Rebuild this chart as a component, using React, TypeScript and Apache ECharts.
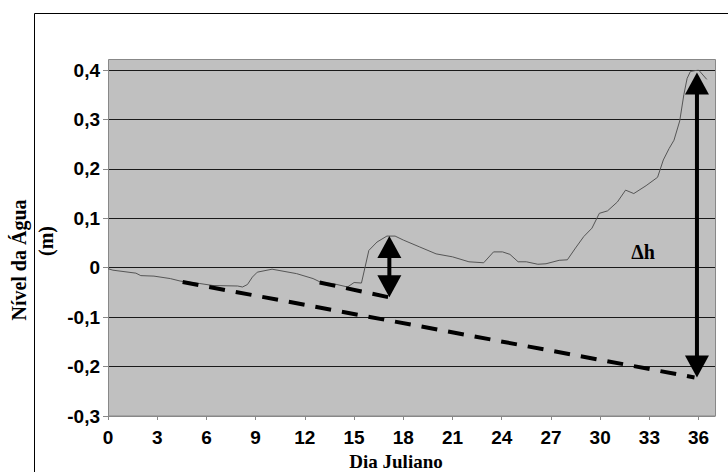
import React, { useEffect, useRef } from 'react';
import * as echarts from 'echarts';

// Daily water level record (Julian day, metres)
const days = [
  0, 0.3, 1.7, 2.0, 2.8, 3.8, 4.4, 5.6, 6.4, 7.9, 8.2, 8.5, 8.8, 9.1, 10.0,
  11.5, 12.5, 13.0, 13.7, 14.6, 15.0, 15.45, 15.9, 16.4, 17.0, 17.5, 18.0,
  19.0, 20.0, 21.0, 22.0, 22.9, 23.5, 24.05, 24.5, 25.0, 25.5, 26.2, 26.7,
  27.5, 28.0, 28.5, 29.0, 29.5, 29.95, 30.45, 31.05, 31.55, 32.05, 32.8,
  33.5, 33.85, 34.2, 34.5, 34.85, 35.1, 35.3, 35.5, 36.0, 36.5,
];
const levels = [
  -0.002, -0.005, -0.011, -0.016, -0.017, -0.022, -0.027, -0.032, -0.036,
  -0.037, -0.039, -0.034, -0.019, -0.009, -0.003, -0.012, -0.022, -0.030,
  -0.032, -0.039, -0.030, -0.031, 0.035, 0.052, 0.064, 0.064, 0.056, 0.042,
  0.028, 0.022, 0.012, 0.010, 0.032, 0.032, 0.027, 0.012, 0.012, 0.007,
  0.008, 0.015, 0.016, 0.040, 0.063, 0.080, 0.110, 0.115, 0.133, 0.157,
  0.150, 0.166, 0.183, 0.218, 0.241, 0.258, 0.297, 0.350, 0.383, 0.397,
  0.400, 0.381,
];

const xTicks = [0, 3, 6, 9, 12, 15, 18, 21, 24, 27, 30, 33, 36];
const yMin = -0.3;
const yMax = 0.4;
const yStep = 0.1;

// Recession trend lines (day, level)
const trendLong = [[4.55, -0.029], [35.75, -0.222]];
const trendShort = [[12.9, -0.03], [17.15, -0.06]];

// Double-headed arrows: [day, top level, bottom level]
const arrows = [
  [17.15, 0.064, -0.06],
  [35.9, 0.395, -0.222],
];

const deltaLabel = 'Δh';

const sansFamily = '"Liberation Sans", Arial, sans-serif';
const serifBold = '"Liberation Serif", "Times New Roman", serif';

export default function App() {
  const ref = useRef<HTMLDivElement>(null);

  useEffect(() => {
    if (!ref.current) return;
    const chart = echarts.init(ref.current, undefined, { renderer: 'svg' });

    const series: any[] = [
      {
        type: 'line',
        data: days.map((d, i) => [d, levels[i]]),
        showSymbol: false,
        symbol: 'none',
        lineStyle: { color: '#555555', width: 1 },
        z: 3,
      },
      ...[trendLong, trendShort].map((seg) => ({
        type: 'line',
        data: seg,
        symbol: 'none',
        lineStyle: { color: '#000', width: 4, type: [16, 11] },
        z: 4,
      })),
      {
        type: 'custom',
        data: arrows,
        encode: { x: 0, y: [1, 2] },
        clip: false,
        z: 5,
        renderItem: (_params: any, api: any) => {
          const x = api.value(0);
          const pTop = api.coord([x, api.value(1)]);
          const pBot = api.coord([x, api.value(2)]);
          const hw = 12;
          const hh = 22;
          return {
            type: 'group',
            children: [
              {
                type: 'line',
                shape: { x1: pTop[0], y1: pTop[1] + hh - 2, x2: pBot[0], y2: pBot[1] - hh + 2 },
                style: { stroke: '#000', lineWidth: 4 },
              },
              {
                type: 'polygon',
                shape: { points: [[pTop[0], pTop[1]], [pTop[0] - hw, pTop[1] + hh], [pTop[0] + hw, pTop[1] + hh]] },
                style: { fill: '#000' },
              },
              {
                type: 'polygon',
                shape: { points: [[pBot[0], pBot[1]], [pBot[0] - hw, pBot[1] - hh], [pBot[0] + hw, pBot[1] - hh]] },
                style: { fill: '#000' },
              },
            ],
          };
        },
      },
    ];

    chart.setOption({
      animation: false,
      backgroundColor: '#ffffff',
      grid: { left: 108, right: 13, top: 70, bottom: 56, show: false },
      xAxis: {
        type: 'value',
        min: 0,
        max: 37,
        axisLine: { show: true, onZero: false, lineStyle: { color: '#888888', width: 1 } },
        axisTick: { show: true, length: 4, customValues: xTicks, lineStyle: { color: '#888888' } },
        axisLabel: {
          customValues: xTicks,
          margin: 12,
          color: '#000',
          fontSize: 19,
          fontWeight: 'bold',
          fontFamily: sansFamily,
        },
        splitLine: { show: false },
      },
      yAxis: {
        type: 'value',
        min: yMin,
        max: yMax,
        interval: yStep,
        axisLine: { show: true, lineStyle: { color: '#888888', width: 1 } },
        axisTick: { show: true, length: 5, lineStyle: { color: '#888888' } },
        axisLabel: {
          margin: 8,
          color: '#000',
          fontSize: 19,
          fontWeight: 'bold',
          fontFamily: sansFamily,
          formatter: (v: number) => {
            const r = Math.round(v * 10) / 10;
            return r === 0 ? '0' : r.toFixed(1).replace('.', ',');
          },
        },
        splitLine: { show: true, lineStyle: { color: '#1a1a1a', width: 1 } },
      },
      graphic: [
        {
          type: 'rect',
          z: -10,
          shape: { x: 34.5, y: 13.5, width: 800, height: 600 },
          style: { fill: '#ffffff', stroke: '#000', lineWidth: 1 },
        },
        {
          type: 'rect',
          z: -5,
          shape: { x: 108.5, y: 59.5, width: 607, height: 356.5 },
          style: { fill: '#c0c0c0', stroke: '#888888', lineWidth: 1 },
        },
        {
          type: 'text',
          x: 396,
          y: 461,
          style: {
            text: 'Dia Juliano',
            font: `bold 19px ${serifBold}`,
            fill: '#000',
            align: 'center',
            verticalAlign: 'middle',
          },
        },
        {
          type: 'text',
          x: 19,
          y: 260,
          rotation: Math.PI / 2,
          style: {
            text: 'Nível da Água',
            font: `bold 20px ${serifBold}`,
            fill: '#000',
            align: 'center',
            verticalAlign: 'middle',
          },
        },
        {
          type: 'text',
          x: 46,
          y: 241,
          rotation: Math.PI / 2,
          style: {
            text: '(m)',
            font: `bold 20px ${serifBold}`,
            fill: '#000',
            align: 'center',
            verticalAlign: 'middle',
          },
        },
        {
          type: 'text',
          x: 643,
          y: 252,
          z: 10,
          style: {
            text: deltaLabel,
            font: `bold 20px ${serifBold}`,
            fill: '#000',
            align: 'center',
            verticalAlign: 'middle',
          },
        },
      ],
      series,
    });

    return () => chart.dispose();
  }, []);

  return (
    <div
      ref={ref}
      style={{ position: 'fixed', left: 0, top: 0, width: 728, height: 472 }}
    />
  );
}
